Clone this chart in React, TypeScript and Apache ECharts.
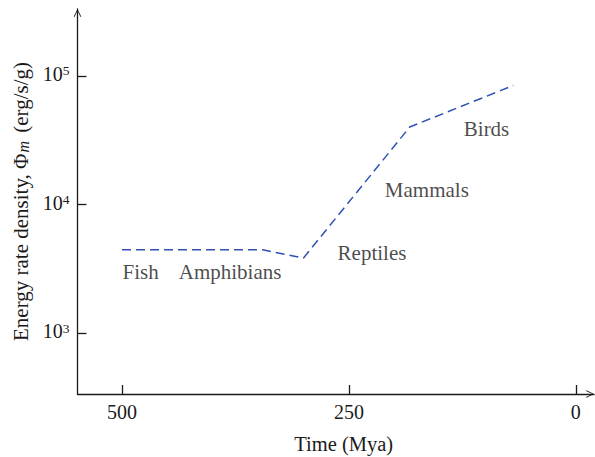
import React, { useEffect, useRef } from "react";
import * as echarts from "echarts";

// Timeline (Mya) and energy rate density (erg/s/g)
const times = [500, 345, 300, 183, 69];
const phiValues = [4450, 4450, 3850, 40000, 84000];

// Annotations: [time (Mya), value, label]
const annotationTimes = [500, 438, 263, 211, 124];
const annotationValues = [3000, 3000, 4200, 13000, 38500];
const annotationLabels = ["Fish", "Amphibians", "Reptiles", "Mammals", "Birds"];

const xTicks = [500, 250, 0];
const yTicks = [1000, 10000, 100000];

const FONT = '"Liberation Serif", "DejaVu Serif", serif';
const ARROW = "path://M0,10 L5,0 L10,10 L9,10.7 L5,2.2 L1,10.7 Z";
const INK = "#1a1a1a";

export default function App() {
  const ref = useRef<HTMLDivElement>(null);
  useEffect(() => {
    if (!ref.current) return;
    const chart = echarts.init(ref.current, null, { renderer: "svg" });
    const lineData = times.map((t, i) => [t, phiValues[i]]);
    const annData = annotationTimes.map((t, i) => ({
      value: [t, annotationValues[i]],
      name: annotationLabels[i],
    }));
    chart.setOption({
      animation: false,
      backgroundColor: "#ffffff",
      textStyle: { fontFamily: FONT },
      grid: { left: 77.5, right: 1, top: 9, bottom: 63, containLabel: false, outerBoundsMode: "none" },
      xAxis: {
        type: "value",
        inverse: true,
        min: -20,
        max: 549,
        name: "Time (Mya)",
        nameLocation: "middle",
        nameGap: 39,
        nameTextStyle: { fontFamily: FONT, fontSize: 20.5, color: INK, padding: [0, 0, 0, 16] },
        axisLine: {
          show: true,
          onZero: false,
          lineStyle: { color: INK, width: 1.3 },
          symbol: ["none", ARROW],
          symbolSize: [13, 8],
          symbolOffset: [0, -4],
        },
        axisTick: { show: true, inside: true, length: 9, lineStyle: { color: INK, width: 1.3 }, customValues: xTicks },
        axisLabel: { fontFamily: FONT, fontSize: 20, color: INK, margin: 8, customValues: xTicks, formatter: (v: number) => String(v) },
        splitLine: { show: false },
      },
      yAxis: {
        type: "log",
        logBase: 10,
        min: 338,
        max: 330000,
        name: "{a|Energy rate density, Φ}{m|m}{a| (erg/s/g)}",
        nameLocation: "middle",
        nameRotate: 90,
        nameGap: 44,
        nameTextStyle: {
          fontFamily: FONT,
          fontSize: 21,
          color: INK,
          rich: {
            a: { fontFamily: FONT, fontSize: 21, color: INK, lineHeight: 24, verticalAlign: "bottom" },
            m: { fontFamily: FONT, fontSize: 16, fontStyle: "italic", color: INK, lineHeight: 12, verticalAlign: "bottom", padding: [0, 3, 0, 1] },
          },
        },
        axisLine: {
          show: true,
          onZero: false,
          lineStyle: { color: INK, width: 1.3 },
          symbol: ["none", ARROW],
          symbolSize: [13, 8],
          symbolOffset: [0, -4],
        },
        axisTick: { show: true, inside: true, length: 9, lineStyle: { color: INK, width: 1.3 }, customValues: yTicks },
        axisLabel: {
          margin: 8,
          customValues: yTicks,
          formatter: (v: number) => `{b|10}{s|${Math.round(Math.log10(v))}}`,
          rich: {
            b: { fontFamily: FONT, fontSize: 20, color: INK, lineHeight: 24, verticalAlign: "top" },
            s: { fontFamily: FONT, fontSize: 13.5, color: INK, lineHeight: 12, verticalAlign: "top" },
          },
        },
        splitLine: { show: false },
        minorTick: { show: false },
      },
      series: [
        {
          type: "line",
          data: lineData,
          symbol: "none",
          silent: true,
          lineStyle: { color: "#2f50b5", width: 1.5, type: [9, 5] },
        },
        {
          type: "scatter",
          data: annData,
          symbolSize: 1,
          silent: true,
          itemStyle: { color: "rgba(0,0,0,0)" },
          label: {
            show: true,
            position: "right",
            distance: 0,
            formatter: (p: any) => p.name,
            fontFamily: FONT,
            fontSize: 21,
            color: INK,
          },
        },
      ],
    });
    return () => chart.dispose();
  }, []);
  return (
    <div
      ref={ref}
      style={{ position: "absolute", left: 0, top: 0, width: 595, height: 457 }}
    />
  );
}
